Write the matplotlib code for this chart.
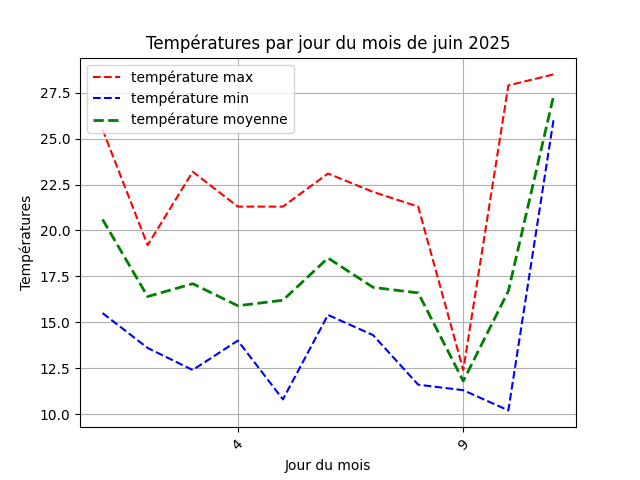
import matplotlib
matplotlib.use("Agg")
import matplotlib.pyplot as plt

jours = [1, 2, 3, 4, 5, 6, 7, 8, 9, 10, 11]
temp_max = [25.5, 19.2, 23.2, 21.3, 21.3, 23.1, 22.1, 21.3, 12.4, 27.9, 28.5]
temp_min = [15.5, 13.6, 12.4, 14.0, 10.8, 15.4, 14.3, 11.6, 11.3, 10.2, 26.0]
temp_moy = [20.6, 16.4, 17.1, 15.9, 16.2, 18.5, 16.9, 16.6, 11.8, 16.7, 27.3]
xticks = [4, 9]

fig, ax = plt.subplots(figsize=(6.4, 4.8), dpi=100)
ax.plot(jours, temp_max, "r--", label="température max")
ax.plot(jours, temp_min, "b--", label="température min")
ax.plot(jours, temp_moy, "g--", linewidth=2, label="température moyenne")
ax.set_xticks(xticks)
ax.tick_params(axis="x", labelrotation=45)
ax.set_xlabel("Jour du mois")
ax.set_ylabel("Températures")
ax.set_title("Températures par jour du mois de juin 2025")
ax.grid(True)
ax.legend(loc="upper left")
fig.savefig("out.png")
